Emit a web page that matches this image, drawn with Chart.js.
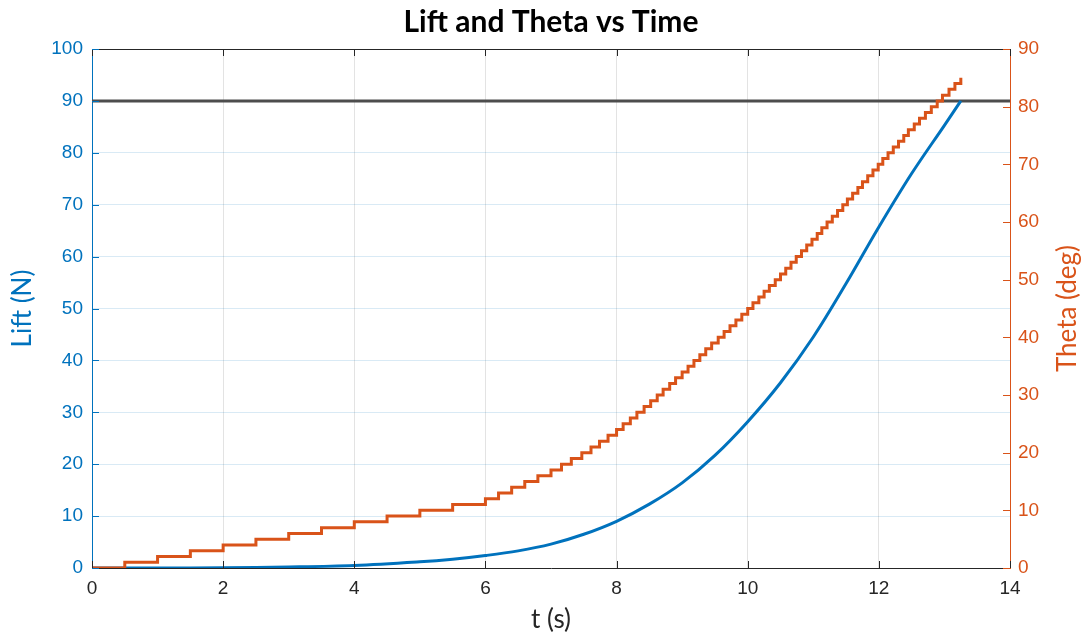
<!DOCTYPE html>
<html>
<head>
<meta charset="utf-8">
<script src="https://cdn.jsdelivr.net/npm/chart.js@4.4.1/dist/chart.umd.min.js"></script>
<style>
  html, body { margin: 0; padding: 0; background: #ffffff; }
  #wrap { width: 1084px; height: 640px; position: relative; }
</style>
</head>
<body>
<div id="wrap"><canvas id="c" width="1084" height="640"></canvas></div>
<script>
// ---- data ----
const chartTitle = 'Lift and Theta vs Time';
const xTitle = 't (s)';
const leftTitle = 'Lift (N)';
const rightTitle = 'Theta (deg)';

const xTickValues = [0, 2, 4, 6, 8, 10, 12, 14];
const leftTickValues = [0, 10, 20, 30, 40, 50, 60, 70, 80, 90, 100];
const rightTickValues = [0, 10, 20, 30, 40, 50, 60, 70, 80, 90];

const liftTime = [0, 1, 2, 3, 4, 5, 5.5, 6, 6.5, 7, 7.5, 8, 8.5, 9, 9.5, 10, 10.5, 11, 11.5, 12, 12.5, 13, 13.25];
const liftValues = [0, 0.01, 0.05, 0.2, 0.5, 1.2, 1.7, 2.4, 3.3, 4.6, 6.5, 9.0, 12.3, 16.4, 21.7, 28.2, 35.7, 44.5, 54.8, 65.7, 76.0, 85.3, 90];

const thetaTime = [0, 0.5, 1.0, 1.5, 2.0, 2.5, 3.0, 3.5, 4.0, 4.5, 5.0, 5.5, 6.0, 6.2, 6.4, 6.6, 6.8, 7.0,
  7.16, 7.31, 7.47, 7.61, 7.74, 7.87, 8.0, 8.10, 8.21, 8.31, 8.42, 8.52, 8.62, 8.71, 8.81, 8.90, 9.0,
  9.09, 9.18, 9.27, 9.36, 9.45, 9.55, 9.64, 9.73, 9.82, 9.91, 10.0, 10.08, 10.17, 10.25, 10.33, 10.42, 10.50,
  10.58, 10.66, 10.74, 10.82, 10.90, 10.98, 11.06, 11.13, 11.21, 11.29, 11.37, 11.45, 11.52, 11.60, 11.68,
  11.75, 11.83, 11.91, 11.99, 12.06, 12.14, 12.22, 12.30, 12.38, 12.45, 12.54, 12.62, 12.71, 12.80, 12.89,
  12.97, 13.07, 13.16, 13.25];
const thetaValues = [0, 1, 2, 3, 4, 5, 6, 7, 8, 9, 10, 11, 12, 13, 14, 15, 16, 17,
  18, 19, 20, 21, 22, 23, 24, 25, 26, 27, 28, 29, 30, 31, 32, 33, 34,
  35, 36, 37, 38, 39, 40, 41, 42, 43, 44, 45, 46, 47, 48, 49, 50, 51,
  52, 53, 54, 55, 56, 57, 58, 59, 60, 61, 62, 63, 64, 65, 66,
  67, 68, 69, 70, 71, 72, 73, 74, 75, 76, 77, 78, 79, 80, 81,
  82, 83, 84, 85];

const limitTime = [0, 14];
const limitLift = [90, 90];

// ---- styling ----
const BLUE = '#0072BD';
const ORANGE = '#D95319';
const DARK = '#262626';
const TICK_FONT = { family: '"Liberation Sans", Arial, sans-serif', size: 19 };

const pairs = (xs, ys) => xs.map((x, i) => ({ x: x, y: ys[i] }));

const decorPlugin = {
  id: 'decor',
  afterDatasetsDraw(chart) {
    const ctx = chart.ctx;
    const a = chart.chartArea;
    const sx = chart.scales.x, sy = chart.scales.y, sy2 = chart.scales.y2;
    const len = 7;
    ctx.save();
    ctx.lineWidth = 1;
    ctx.strokeStyle = DARK;
    ctx.beginPath();
    ctx.moveTo(a.left, Math.round(a.top) + 0.5);
    ctx.lineTo(a.right, Math.round(a.top) + 0.5);
    ctx.stroke();
    ctx.beginPath();
    xTickValues.forEach(v => {
      const px = Math.round(sx.getPixelForValue(v)) + 0.5;
      ctx.moveTo(px, a.bottom); ctx.lineTo(px, a.bottom - len);
      ctx.moveTo(px, a.top); ctx.lineTo(px, a.top + len);
    });
    ctx.stroke();
    ctx.strokeStyle = BLUE;
    ctx.beginPath();
    leftTickValues.forEach(v => {
      const py = Math.round(sy.getPixelForValue(v)) + 0.5;
      ctx.moveTo(a.left, py); ctx.lineTo(a.left + len, py);
    });
    ctx.stroke();
    ctx.strokeStyle = ORANGE;
    ctx.beginPath();
    rightTickValues.forEach(v => {
      const py = Math.round(sy2.getPixelForValue(v)) + 0.5;
      ctx.moveTo(a.right, py); ctx.lineTo(a.right - len, py);
    });
    ctx.stroke();
    ctx.restore();
  },
  afterDraw(chart) {
    const ctx = chart.ctx;
    const a = chart.chartArea;
    const cx = (a.left + a.right) / 2;
    ctx.save();
    ctx.textAlign = 'center';
    ctx.textBaseline = 'middle';
    ctx.fillStyle = '#000000';
    ctx.font = 'bold 30px Lato, "Open Sans", sans-serif';
    ctx.fillText(chartTitle, cx, 22);
    ctx.fillStyle = DARK;
    ctx.font = '26px Lato, "Open Sans", sans-serif';
    ctx.fillText(xTitle, cx, 620);
    ctx.save();
    ctx.translate(23, (a.top + a.bottom) / 2);
    ctx.rotate(-Math.PI / 2);
    ctx.fillStyle = BLUE;
    ctx.fillText(leftTitle, 0, 0);
    ctx.restore();
    ctx.save();
    ctx.translate(1068, (a.top + a.bottom) / 2);
    ctx.rotate(-Math.PI / 2);
    ctx.fillStyle = ORANGE;
    ctx.fillText(rightTitle, 0, 0);
    ctx.restore();
    ctx.restore();
  }
};

new Chart(document.getElementById('c'), {
  type: 'line',
  data: {
    datasets: [
      {
        label: 'Lift',
        data: pairs(liftTime, liftValues),
        yAxisID: 'y',
        borderColor: BLUE,
        borderWidth: 3,
        pointRadius: 0,
        tension: 0.35,
        fill: false,
        order: 2
      },
      {
        label: 'Limit',
        data: pairs(limitTime, limitLift),
        yAxisID: 'y',
        borderColor: '#4d4d4d',
        borderWidth: 3,
        pointRadius: 0,
        fill: false,
        order: 3
      },
      {
        label: 'Theta',
        data: pairs(thetaTime, thetaValues),
        yAxisID: 'y2',
        borderColor: ORANGE,
        borderWidth: 3,
        pointRadius: 0,
        stepped: 'before',
        fill: false,
        order: 1
      }
    ]
  },
  options: {
    responsive: false,
    animation: false,
    devicePixelRatio: 1,
    layout: { padding: { top: 49, left: 0, right: 0, bottom: 0 } },
    plugins: {
      legend: { display: false },
      tooltip: { enabled: false },
      title: { display: false }
    },
    scales: {
      x: {
        type: 'linear',
        min: xTickValues[0],
        max: xTickValues[xTickValues.length - 1],
        afterFit(s) { s.height = 72; },
        afterBuildTicks(s) { s.ticks = xTickValues.map(v => ({ value: v })); },
        ticks: { color: DARK, font: TICK_FONT, padding: 9, maxRotation: 0 },
        grid: { color: 'rgba(38,38,38,0.13)', drawTicks: false },
        border: { color: DARK, width: 1 }
      },
      y: {
        type: 'linear',
        position: 'left',
        min: leftTickValues[0],
        max: leftTickValues[leftTickValues.length - 1],
        afterFit(s) { s.width = 92; },
        afterBuildTicks(s) { s.ticks = leftTickValues.map(v => ({ value: v })); },
        ticks: { color: BLUE, font: TICK_FONT, padding: 9 },
        grid: { color: 'rgba(0,114,189,0.15)', drawTicks: false },
        border: { color: BLUE, width: 1 }
      },
      y2: {
        type: 'linear',
        position: 'right',
        min: rightTickValues[0],
        max: rightTickValues[rightTickValues.length - 1],
        afterFit(s) { s.width = 74; },
        afterBuildTicks(s) { s.ticks = rightTickValues.map(v => ({ value: v })); },
        ticks: { color: ORANGE, font: TICK_FONT, padding: 8 },
        grid: { display: false, drawTicks: false },
        border: { color: ORANGE, width: 1 }
      }
    }
  },
  plugins: [decorPlugin]
});
</script>
</body>
</html>
